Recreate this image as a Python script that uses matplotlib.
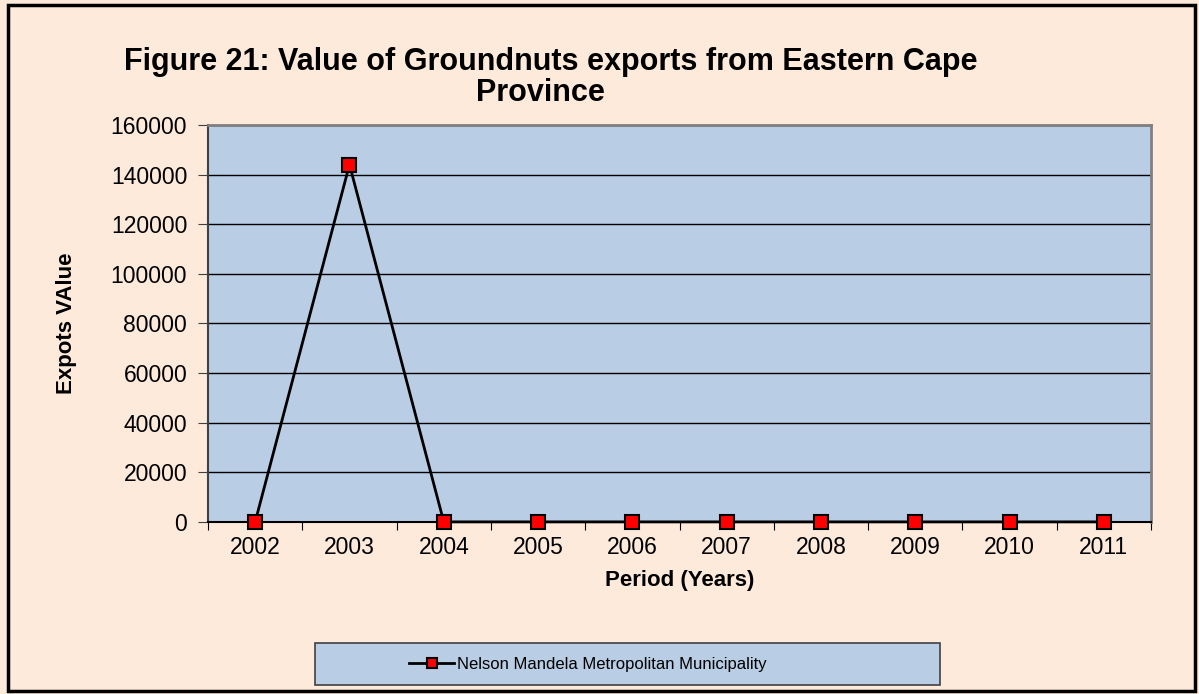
import matplotlib.pyplot as plt
from matplotlib.patches import Rectangle

plt.rcParams['font.family'] = ['Liberation Sans', 'DejaVu Sans']

years = ["2002", "2003", "2004", "2005", "2006", "2007", "2008", "2009", "2010", "2011"]
values = [0, 144000, 0, 0, 0, 0, 0, 0, 0, 0]
series_name = "Nelson Mandela Metropolitan Municipality"

fig = plt.figure(figsize=(11.99, 6.94), dpi=100)
fig.patch.set_facecolor("#FDEADA")
fig.patches.append(Rectangle((0.007, 0.004), 0.99, 0.989, transform=fig.transFigure,
                             fill=False, edgecolor="black", linewidth=2.5))

ax = fig.add_axes([0.1735, 0.248, 0.7865, 0.572])
ax.set_facecolor("#B9CDE5")

x = list(range(len(years)))
line, = ax.plot(x, values, color="black", linewidth=2, marker="s", markersize=10,
                markerfacecolor="#FF0000", markeredgecolor="black", markeredgewidth=1.5,
                clip_on=False, zorder=5, label=series_name)

ax.set_ylim(0, 160000)
ax.set_yticks(range(0, 160001, 20000))
ax.yaxis.grid(True, color="black", linewidth=1)
ax.set_axisbelow(True)
ax.tick_params(axis="y", labelsize=16.5, length=7, pad=8, direction="out", color="#404040")

ax.set_xlim(-0.5, len(years) - 0.5)
ax.set_xticks([i - 0.5 for i in range(len(years) + 1)])
ax.set_xticklabels([])
ax.set_xticks(x, minor=True)
ax.set_xticklabels(years, minor=True)
ax.tick_params(axis="x", which="major", length=6, direction="out", color="black")
ax.tick_params(axis="x", which="minor", length=0, labelsize=16.5, pad=10)

for s in ["top", "right"]:
    ax.spines[s].set_color("#808080")
    ax.spines[s].set_linewidth(2)
ax.spines["left"].set_color("#404040")
ax.spines["left"].set_linewidth(1.5)
ax.spines["bottom"].set_color("black")
ax.spines["bottom"].set_linewidth(1.5)

ax.set_ylabel("Expots VAlue", fontsize=16, fontweight="bold", labelpad=24)
ax.set_xlabel("Period (Years)", fontsize=16, fontweight="bold", labelpad=8)

fig.text(0.459, 0.899, "Figure 21: Value of Groundnuts exports from Eastern Cape",
         ha="center", va="baseline", fontsize=22, fontweight="bold")
fig.text(0.451, 0.855, "Province", ha="center", va="baseline", fontsize=22, fontweight="bold")

# legend box
fig.patches.append(Rectangle((315 / 1199, 1 - 685 / 694), 625 / 1199, 42 / 694,
                             transform=fig.transFigure, facecolor="#B9CDE5",
                             edgecolor="#404040", linewidth=1.2))
leg = fig.legend(handles=[line], loc="center", bbox_to_anchor=(588 / 1199, 1 - 664 / 694),
                 fontsize=12, frameon=False, handlelength=2.7, handletextpad=0.2,
                 markerscale=0.75)

fig.savefig("out.png", dpi=100, facecolor=fig.get_facecolor())
